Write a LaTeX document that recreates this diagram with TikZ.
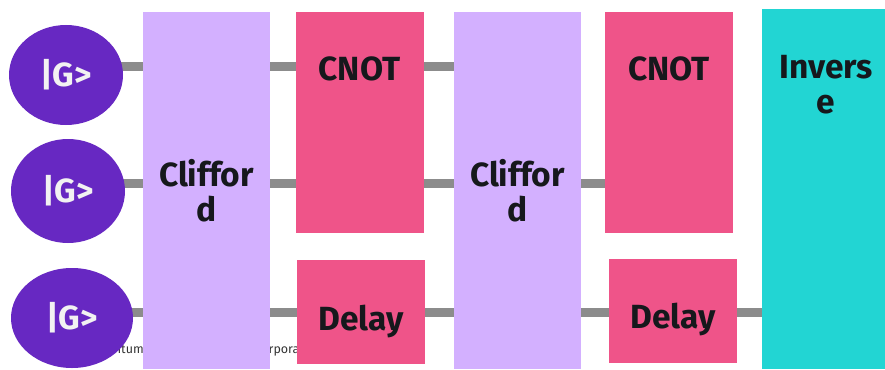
\documentclass[tikz,border=0pt]{standalone}
\usepackage{fontspec}
\setmainfont{Fira Sans}
\usetikzlibrary{shapes.geometric}
\definecolor{qubitpurple}{HTML}{6728C2}
\definecolor{cliffpurple}{HTML}{D3B0FF}
\definecolor{gatepink}{HTML}{EF5489}
\definecolor{invteal}{HTML}{22D5D3}
\definecolor{wiregray}{HTML}{8C8C8C}
\definecolor{inkdark}{HTML}{16181C}
\pgfdeclarelayer{background}
\pgfsetlayers{background,main}
\begin{document}
\begin{tikzpicture}[x=1pt,y=-1pt, line join=round]
	\tikzset{every node/.style={inner sep=0pt, text=inkdark, font=\bfseries\fontsize{33.5}{34.5}\selectfont}}
	\tikzset{qubit/.style={ellipse, fill=qubitpurple, text=white!95!black}}
	\tikzset{clifford/.style={fill=cliffpurple, minimum width=127pt, minimum height=357pt, align=center}}
	\tikzset{gatebox/.style={fill=gatepink, minimum width=128pt}}
	\tikzset{wire/.style={draw=wiregray, line width=9pt}}
	\useasboundingbox (0,0) rectangle (885,369);
	\node[anchor=base west, text=black!80, font=\fontsize{12.5}{14}\selectfont] (credit) at (91,353) {Quantum Software Research Corporation};
	\path
	(66,75)node[qubit, minimum width=114pt, minimum height=100pt](g1){|G>}
	(68,191)node[qubit, minimum width=114pt, minimum height=104pt](g2){|G>}
	(72,318)node[qubit, minimum width=122pt, minimum height=100pt](g3){|G>}
	(206.5,190.5)node[clifford](clif1){Cliffor\\d}
	(517.5,190.5)node[clifford](clif2){Cliffor\\d}
	(359.5,122.5)node[gatebox, text height=69pt, text depth=152pt](cnot1){CNOT}
	(669,122.5)node[gatebox, text height=69pt, text depth=152pt](cnot2){CNOT}
	(361,312)node[gatebox, text height=70pt, text depth=34pt](delay1){Delay}
	(673,311)node[gatebox, text height=69pt, text depth=35pt](delay2){Delay}
	(826,189)node[fill=invteal, minimum width=128pt, align=center, text height=104pt, text depth=256pt](inv){Invers\\e}
	;
	\coordinate (row1) at (0,66);
	\coordinate (row2) at (0,183.5);
	\coordinate (row3) at (0,312.5);
	\begin{pgfonlayer}{background}
		\draw[wire] (g1 |- row1)--(clif2 |- row1);
		\draw[wire] (g2 |- row2)--(cnot2 |- row2);
		\draw[wire] (g3 |- row3)--(inv |- row3);
	\end{pgfonlayer}
\end{tikzpicture}
\end{document}
